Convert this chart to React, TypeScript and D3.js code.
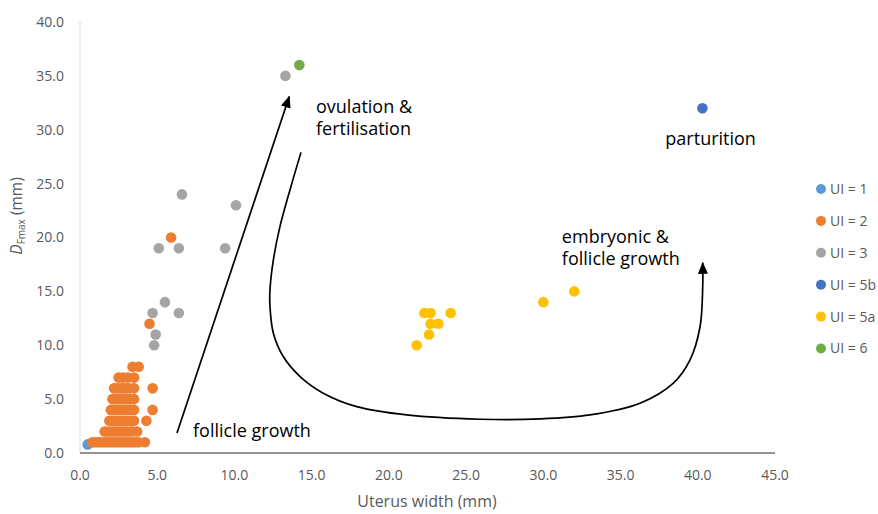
import React from "react";
import * as d3 from "d3";

// ---- Data ---------------------------------------------------------------
const xTicks = [0, 5, 10, 15, 20, 25, 30, 35, 40, 45];
const yTicks = [0, 5, 10, 15, 20, 25, 30, 35, 40];

const ui1X = [0.5];
const ui1Y = [0.8];

const ui2X = [
  0.8, 1.0, 1.2, 1.4, 1.6, 1.8, 2.0, 2.2, 2.4, 2.6, 2.8, 3.0, 3.2, 3.4, 3.6, 3.8, 4.2,
  1.6, 1.8, 2.0, 2.2, 2.4, 2.6, 2.8, 3.0, 3.2, 3.4, 3.7,
  1.9, 2.1, 2.3, 2.5, 2.7, 2.9, 3.1, 3.3, 3.5, 4.3,
  2.0, 2.2, 2.4, 2.6, 2.8, 3.0, 3.2, 3.5, 4.7,
  2.1, 2.3, 2.5, 2.7, 2.9, 3.1, 3.3, 3.5,
  2.2, 2.4, 2.6, 2.8, 3.0, 3.2, 3.5, 4.7,
  2.5, 2.8, 3.1, 3.5,
  3.4, 3.8,
  4.5, 5.9,
];
const ui2Y = [
  1, 1, 1, 1, 1, 1, 1, 1, 1, 1, 1, 1, 1, 1, 1, 1, 1,
  2, 2, 2, 2, 2, 2, 2, 2, 2, 2, 2,
  3, 3, 3, 3, 3, 3, 3, 3, 3, 3,
  4, 4, 4, 4, 4, 4, 4, 4, 4,
  5, 5, 5, 5, 5, 5, 5, 5,
  6, 6, 6, 6, 6, 6, 6, 6,
  7, 7, 7, 7,
  8, 8,
  12, 20,
];

const ui3X = [6.6, 10.1, 5.1, 6.4, 9.4, 5.5, 4.7, 6.4, 4.9, 4.8, 13.3];
const ui3Y = [24, 23, 19, 19, 19, 14, 13, 13, 11, 10, 35];

const ui5bX = [40.3];
const ui5bY = [32];

const ui5aX = [22.3, 22.7, 24.0, 22.7, 23.2, 22.6, 21.8, 30.0, 32.0];
const ui5aY = [13, 13, 13, 12, 12, 11, 10, 14, 15];

const ui6X = [14.2];
const ui6Y = [36];

const seriesNames = ["UI = 1", "UI = 2", "UI = 3", "UI = 5b", "UI = 5a", "UI = 6"];
const seriesColors = ["#5B9BD5", "#ED7D31", "#A5A5A5", "#4472C4", "#FFC000", "#70AD47"];
const seriesXs = [ui1X, ui2X, ui3X, ui5bX, ui5aX, ui6X];
const seriesYs = [ui1Y, ui2Y, ui3Y, ui5bY, ui5aY, ui6Y];

// Path of the developmental cycle arrows (data units)
const growthArrowX = [6.28, 13.55];
const growthArrowY = [1.86, 33.08];

const cycleArrowX = [
  14.31, 13.6, 12.95, 12.52, 12.3, 12.3, 12.52, 13.16, 14.25, 15.75, 17.92, 21.15,
  25.9, 29.78, 33.02, 36.26, 38.42, 39.5, 40.15, 40.32, 40.32,
];
const cycleArrowY = [
  27.9, 24.44, 21.03, 17.93, 15.15, 13.6, 11.12, 8.95, 7.09, 5.55, 4.3, 3.53,
  3.13, 3.16, 3.53, 4.62, 6.48, 8.64, 11.74, 15.45, 17.65,
];

const FONT = "'Open Sans', sans-serif";

export default function App() {
  const width = 878;
  const height = 514;
  const x = d3.scaleLinear().domain([0, 45]).range([80, 775]);
  const y = d3.scaleLinear().domain([0, 40]).range([453, 22]);
  const fmt = d3.format(".1f");

  const line = d3
    .line<[number, number]>()
    .x((d) => x(d[0]))
    .y((d) => y(d[1]));
  const curve = d3
    .line<[number, number]>()
    .x((d) => x(d[0]))
    .y((d) => y(d[1]))
    .curve(d3.curveCatmullRom.alpha(0.5));

  const growthPts = growthArrowX.map((v, i) => [v, growthArrowY[i]] as [number, number]);
  const cyclePts = cycleArrowX.map((v, i) => [v, cycleArrowY[i]] as [number, number]);

  return (
    <svg
      width={width}
      height={height}
      style={{ position: "absolute", left: 0, top: 0, background: "#fff" }}
      fontFamily={FONT}
    >
      <defs>
        <marker
          id="head"
          viewBox="0 0 12 10"
          refX="11"
          refY="5"
          markerWidth="12"
          markerHeight="10"
          markerUnits="userSpaceOnUse"
          orient="auto"
        >
          <path d="M0,0 L12,5 L0,10 Z" fill="#000" />
        </marker>
      </defs>

      {/* axes */}
      <line x1={x(0)} x2={x(0)} y1={y(40)} y2={y(0)} stroke="#d9d9d9" strokeWidth={1} />
      <line x1={x(0)} x2={x(45)} y1={y(0)} y2={y(0)} stroke="#262626" strokeWidth={1} />

      {xTicks.map((t) => (
        <text key={"x" + t} x={x(t)} y={480} textAnchor="middle" fontSize={14} fill="#595959">
          {fmt(t)}
        </text>
      ))}
      {yTicks.map((t) => (
        <text
          key={"y" + t}
          x={64}
          y={y(t)}
          dy="0.35em"
          textAnchor="end"
          fontSize={14}
          fill="#595959"
        >
          {fmt(t)}
        </text>
      ))}

      {/* axis titles */}
      <text x={427} y={507} textAnchor="middle" fontSize={16} fill="#595959">
        Uterus width (mm)
      </text>
      <text
        transform="translate(22,216) rotate(-90)"
        textAnchor="middle"
        fontSize={15.5}
        fill="#595959"
      >
        <tspan fontStyle="italic">D</tspan>
        <tspan fontSize={10} dy={3}>Fmax</tspan>
        <tspan dy={-3}> (mm)</tspan>
      </text>

      {/* points */}
      {seriesXs.map((xs, s) => (
        <g key={seriesNames[s]} fill={seriesColors[s]}>
          {xs.map((v, i) => (
            <circle key={i} cx={x(v)} cy={y(seriesYs[s][i])} r={5.3} />
          ))}
        </g>
      ))}

      {/* arrows */}
      <path
        d={line(growthPts) || ""}
        fill="none"
        stroke="#000"
        strokeWidth={1.7}
        markerEnd="url(#head)"
      />
      <path
        d={curve(cyclePts) || ""}
        fill="none"
        stroke="#000"
        strokeWidth={1.7}
        markerEnd="url(#head)"
      />

      {/* annotations */}
      <g fontSize={18} fill="#000">
        <text x={x(15.28)} y={y(31.6)}>ovulation &amp;</text>
        <text x={x(15.28)} y={y(31.6) + 22}>fertilisation</text>
        <text x={x(37.9)} y={y(28.6)}>parturition</text>
        <text x={x(31.2)} y={y(19.5)}>embryonic &amp;</text>
        <text x={x(31.2)} y={y(19.5) + 22.5}>follicle growth</text>
        <text x={x(7.32)} y={y(1.49)}>follicle growth</text>
      </g>

      {/* legend */}
      {seriesNames.map((name, i) => (
        <g key={"lg" + name} transform={`translate(821,${189 + i * 31.9})`}>
          <circle r={5} fill={seriesColors[i]} />
          <text x={9} dy="0.35em" fontSize={14} fill="#595959">
            {name}
          </text>
        </g>
      ))}
    </svg>
  );
}
